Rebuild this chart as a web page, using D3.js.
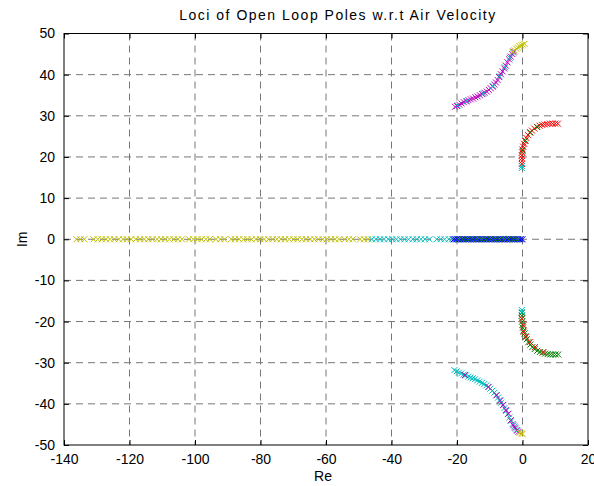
<!DOCTYPE html>
<html>
<head>
<meta charset="utf-8">
<script src="https://cdn.jsdelivr.net/npm/d3@7"></script>
<style>
  body { margin: 0; background: #fff; }
  text { font-family: 'Liberation Sans', Arial, sans-serif; }
</style>
</head>
<body>
<svg id="loci" width="594" height="486"></svg>
<script>
var xTicks = [-140, -120, -100, -80, -60, -40, -20, 0, 20]
var yTicks = [-50, -40, -30, -20, -10, 0, 10, 20, 30, 40, 50]

// poles on the real axis (Im = 0)
var realYellow = [-136.2, -135.0, -133.8, -131.0, -129.7, -128.5, -127.2, -126.0, -124.6, -123.3, -122.0, -120.8, -119.5, -118.1, -116.8, -115.5, -114.3, -113.0, -111.6, -110.4, -109.1, -107.8, -106.5, -105.2, -104.0, -101.8, -100.5, -99.2, -98.0, -96.7, -95.5, -93.6, -92.3, -91.0, -89.0, -87.8, -86.5, -85.2, -84.0, -82.7, -81.4, -80.1, -78.9, -77.6, -76.3, -75.0, -73.8, -72.5, -71.2, -69.9, -68.7, -67.4, -66.1, -64.8, -63.6, -62.3, -61.0, -59.8, -58.5, -57.2, -56.0, -54.3, -53.0, -51.8, -49.6, -48.4, -47.2]
var realCyan = [-46.0, -44.8, -43.5, -42.3, -41.0, -39.8, -38.5, -37.3, -36.0, -34.8, -33.5, -32.3, -31.0, -29.8, -28.4, -26.2, -25.0, -23.8, -22.5, -21.5]
var realBlue = [-21.0, -20.5, -20.0, -19.5, -19.0, -18.5, -18.0, -17.5, -17.0, -16.5, -16.0, -15.5, -15.0, -14.5, -14.0, -13.5, -13.0, -12.5, -12.0, -11.5, -11.0, -10.5, -10.0, -9.5, -9.0, -8.5, -8.0, -7.5, -7.0, -6.5, -6.0, -5.5, -5.0, -4.5, -4.0, -3.5, -3.0, -2.5, -2.0, -1.5, -1.0, -0.5, 0.0]
var realGreen = [-19.5, -18.2, -16.8, -15.3, -14.0, -12.5, -11.2, -9.8, -8.3, -7.0, -5.6, -4.2, -2.8, -1.5]

// complex branches [Re, Im]
var upperMagenta = [[-20.6, 32.2], [-20.0, 32.4], [-19.3, 32.7], [-18.6, 33.0], [-17.9, 33.3], [-17.2, 33.5], [-16.5, 33.8], [-15.8, 34.0], [-15.1, 34.2], [-14.4, 34.5], [-13.7, 34.7], [-13.0, 35.0], [-12.3, 35.3], [-11.6, 35.6], [-10.9, 35.9], [-10.3, 36.3], [-9.7, 36.7], [-9.1, 37.1], [-8.6, 37.6], [-8.1, 38.1], [-7.6, 38.7], [-7.1, 39.4], [-6.6, 40.1], [-6.1, 40.8], [-5.6, 41.5], [-5.1, 42.2], [-4.6, 43.0], [-4.1, 43.7], [-3.6, 44.4], [-3.1, 45.0], [-2.6, 45.6]]
var upperCyan = [[-19.8, 32.5], [-17.0, 33.6], [-12.0, 35.4], [-9.0, 37.2], [-7.0, 39.6], [-5.4, 41.8], [-3.9, 44.1], [-2.9, 45.4]]
var upperYellow = [[-3.0, 45.6], [-2.4, 45.9], [-1.9, 46.3], [-1.4, 46.6], [-0.9, 46.9], [-0.4, 47.1], [0.1, 47.3], [0.6, 47.5]]

var rightRed = [[-0.2, 18.3], [-0.2, 19.0], [-0.2, 19.7], [-0.2, 20.4], [-0.1, 21.1], [0.0, 21.8], [0.2, 22.5], [0.5, 23.2], [0.8, 23.9], [1.2, 24.6], [1.7, 25.3], [2.3, 25.9], [2.9, 26.4], [3.6, 26.9], [4.4, 27.3], [5.2, 27.6], [6.0, 27.8], [6.8, 27.9], [7.6, 28.0], [8.4, 28.1], [9.2, 28.1], [10.0, 28.1], [10.8, 28.1]]
var rightGreenUp = [[0.0, 21.5], [0.9, 24.0], [2.4, 26.0], [4.5, 27.3]]
var rightCyanUp = [[-0.2, 17.3], [-0.2, 17.8]]

var rightGreen = [[-0.2, -17.9], [-0.2, -18.6], [-0.2, -19.3], [-0.1, -20.0], [0.0, -20.8], [0.1, -21.5], [0.3, -22.2], [0.6, -22.9], [0.9, -23.6], [1.3, -24.3], [1.8, -25.0], [2.4, -25.6], [3.0, -26.2], [3.7, -26.7], [4.5, -27.1], [5.3, -27.4], [6.1, -27.6], [6.9, -27.8], [7.7, -27.9], [8.5, -28.0], [9.3, -28.0], [10.1, -28.0], [10.9, -28.0]]
var rightRedDown = [[-0.2, -19.3], [0.3, -20.9], [0.3, -22.5], [1.1, -23.7], [2.3, -25.0], [3.8, -26.2], [6.4, -27.4]]
var rightCyanDown = [[-0.2, -17.2], [-0.2, -17.7]]

var lowerCyan = [[-20.8, -31.8], [-20.1, -32.1], [-19.4, -32.4], [-18.7, -32.6], [-18.0, -32.9], [-17.3, -33.1], [-16.6, -33.4], [-15.9, -33.6], [-15.2, -33.8], [-14.5, -34.0], [-13.8, -34.3], [-13.1, -34.6], [-12.4, -34.9], [-11.7, -35.2], [-11.0, -35.5], [-10.4, -35.9], [-9.8, -36.3], [-9.2, -36.8], [-8.6, -37.3], [-8.0, -37.9], [-7.5, -38.5], [-7.0, -39.1], [-6.5, -39.7], [-6.0, -40.3], [-5.5, -41.0], [-5.0, -41.7], [-4.5, -42.5], [-4.0, -43.3], [-3.5, -44.1], [-3.0, -44.9], [-2.5, -45.5], [-2.0, -46.0], [-1.5, -46.5]]
var lowerMagenta = [[-17.6, -33.0], [-10.4, -35.9], [-7.9, -37.9], [-6.8, -39.2], [-5.9, -40.3], [-5.1, -41.5], [-4.3, -42.4], [-3.6, -44.0], [-2.8, -45.2], [-2.3, -45.8], [-1.8, -46.4], [-1.2, -46.8]]
var lowerYellow = [[-0.9, -47.0], [-0.4, -47.2], [0.0, -47.3]]

var svg = d3.select('#loci')
var margin = {left: 64, top: 33.5, right: 6, bottom: 41}
var width = +svg.attr('width') - margin.left - margin.right
var height = +svg.attr('height') - margin.top - margin.bottom

var x = d3.scaleLinear().domain([-140, 20]).range([0, width])
var y = d3.scaleLinear().domain([-50, 50]).range([height, 0])

var g = svg.append('g')
    .attr('transform', 'translate(' + margin.left + ',' + margin.top + ')')

// grid
g.append('g').selectAll('line')
    .data(xTicks.slice(1, -1))
    .enter().append('line')
      .attr('x1', x).attr('x2', x)
      .attr('y1', 0).attr('y2', height)
      .attr('stroke', '#777')
      .attr('stroke-dasharray', '7,5')
g.append('g').selectAll('line')
    .data(yTicks.slice(1, -1))
    .enter().append('line')
      .attr('y1', y).attr('y2', y)
      .attr('x1', 0).attr('x2', width)
      .attr('stroke', '#777')
      .attr('stroke-dasharray', '7,5')

// axes, ticks inward on all sides
var plain = function (d) { return String(d) }
function styleAxis (sel) {
  sel.select('.domain').remove()
  sel.selectAll('text')
      .style('font-size', '14px')
      .style('font-family', "'Liberation Sans', Arial, sans-serif")
      .attr('fill', '#000')
  sel.selectAll('line').attr('stroke', '#000')
}
g.append('g')
    .attr('transform', 'translate(0,' + height + ')')
    .call(d3.axisBottom(x).tickValues(xTicks).tickSize(-5).tickPadding(9).tickFormat(plain))
    .call(styleAxis)
g.append('g')
    .call(d3.axisTop(x).tickValues(xTicks).tickSize(-5).tickFormat(''))
    .call(styleAxis)
g.append('g')
    .call(d3.axisLeft(y).tickValues(yTicks).tickSize(-5).tickPadding(9).tickFormat(plain))
    .call(styleAxis)
g.append('g')
    .attr('transform', 'translate(' + width + ',0)')
    .call(d3.axisRight(y).tickValues(yTicks).tickSize(-5).tickFormat(''))
    .call(styleAxis)

g.append('rect')
    .attr('width', width)
    .attr('height', height)
    .attr('fill', 'none')
    .attr('stroke', '#000')

// x markers
var colors = {
  b: '#0000ff', g: '#008000', r: '#ff0000',
  c: '#00bfbf', m: '#bf00bf', y: '#bfbf00'
}
var layers = [
  [realYellow.map(function (v) { return [v, 0] }), colors.y],
  [realCyan.map(function (v) { return [v, 0] }), colors.c],
  [realBlue.map(function (v) { return [v, 0] }), colors.b],
  [realGreen.map(function (v) { return [v, 0] }), colors.g],
  [upperMagenta, colors.m],
  [upperCyan, colors.c],
  [upperYellow, colors.y],
  [rightRed, colors.r],
  [rightGreenUp, colors.g],
  [rightCyanUp, colors.c],
  [rightGreen, colors.g],
  [rightRedDown, colors.r],
  [rightCyanDown, colors.c],
  [lowerCyan, colors.c],
  [lowerMagenta, colors.m],
  [lowerYellow, colors.y]
]

var marker = 'M-3,-3L3,3M-3,3L3,-3'
layers.forEach(function (layer) {
  g.append('g').selectAll('path')
      .data(layer[0])
      .enter().append('path')
        .attr('transform', function (d) { return 'translate(' + x(d[0]) + ',' + y(d[1]) + ')' })
        .attr('d', marker)
        .attr('fill', 'none')
        .attr('stroke', layer[1])
        .attr('stroke-width', 1)
})

// labels
svg.append('text')
    .attr('x', margin.left + width / 2 + 12)
    .attr('y', 20)
    .attr('text-anchor', 'middle')
    .style('font-size', '14px')
    .style('letter-spacing', '1.5px')
    .text('Loci of Open Loop Poles w.r.t Air Velocity')
svg.append('text')
    .attr('x', margin.left + width / 2 - 3)
    .attr('y', 481)
    .attr('text-anchor', 'middle')
    .style('font-size', '14px')
    .text('Re')
svg.append('text')
    .attr('transform', 'translate(27,' + (margin.top + height / 2) + ') rotate(-90)')
    .attr('text-anchor', 'middle')
    .style('font-size', '14px')
    .text('Im')
</script>
</body>
</html>
